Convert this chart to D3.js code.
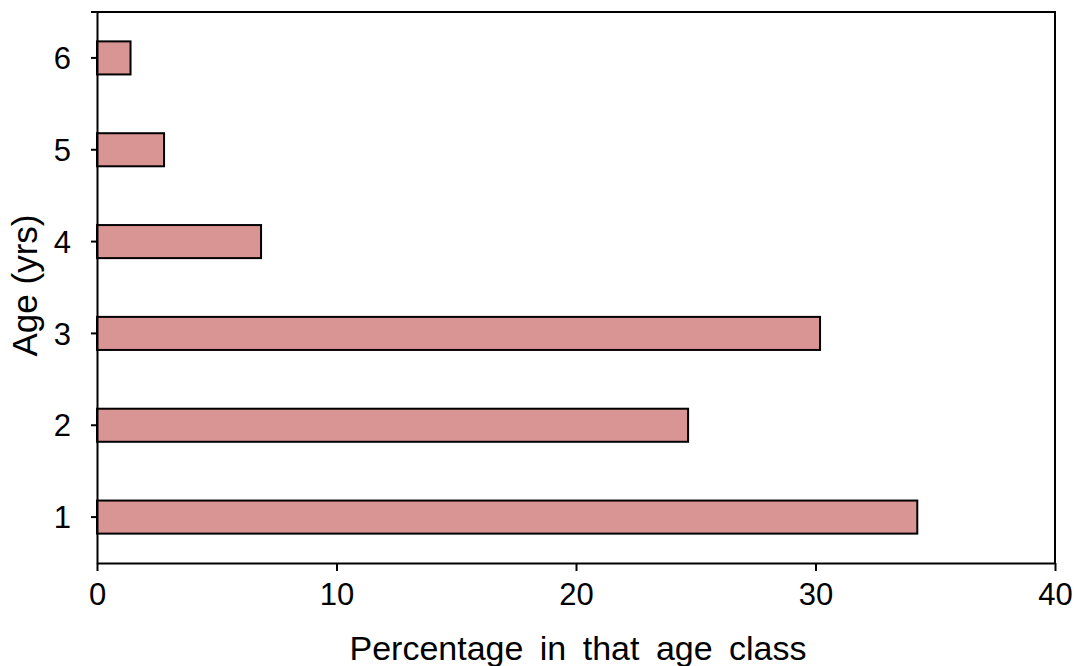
<!DOCTYPE html>
<html>
<head>
<meta charset="utf-8">
<script src="https://cdn.jsdelivr.net/npm/d3@7"></script>
<style>
  body { margin: 0; background: #fff; }
  text { font-family: Arial, "Liberation Sans", sans-serif; fill: #000; }
</style>
</head>
<body>
<script>
// age classes and percentage in each
const ages = ['1', '2', '3', '4', '5', '6'];
const percents = [34.25, 24.68, 30.19, 6.85, 2.80, 1.40];
const xTicks = [0, 10, 20, 30, 40];

const width = 1078;
const height = 666;
const margins = {
  top: 12,
  bottom: 103,
  left: 97,
  right: 23,
};

const xScale = d3.scaleLinear([0, 40], [margins.left, width - margins.right]);
const yScale = d3.scaleBand(ages, [height - margins.bottom, margins.top])
  .paddingInner(0.64)
  .paddingOuter(0.32);

const svg = d3.create('svg')
  .attr('width', width)
  .attr('height', height);

// frame: top and right lines
svg.append('path')
  .attr('d', `M${margins.left - 6},${margins.top}H${width - margins.right}V${height - margins.bottom}`)
  .attr('fill', 'none')
  .attr('stroke', '#000')
  .attr('stroke-width', 2);

// bars
svg.append('g')
  .selectAll('rect')
  .data(ages.map((a, i) => [a, percents[i]]))
  .join('rect')
  .attr('x', xScale(0))
  .attr('y', d => yScale(d[0]))
  .attr('width', d => xScale(d[1]) - xScale(0))
  .attr('height', yScale.bandwidth())
  .attr('fill', '#d89594')
  .attr('stroke', '#000')
  .attr('stroke-width', 2);

// x-axis
const gx = svg.append('g')
  .attr('transform', `translate(0, ${height - margins.bottom})`)
  .call(d3.axisBottom(xScale).tickValues(xTicks).tickSize(8).tickPadding(12).tickSizeOuter(0));

// y-axis
const gy = svg.append('g')
  .attr('transform', `translate(${margins.left}, 0)`)
  .call(d3.axisLeft(yScale).tickSize(6).tickPadding(20).tickSizeOuter(0));

for (const g of [gx, gy]) {
  g.select('.domain').attr('stroke', '#000').attr('stroke-width', 2);
  g.selectAll('.tick line').attr('stroke', '#000').attr('stroke-width', 2);
  g.selectAll('.tick text')
    .attr('font-size', 31)
    .attr('font-family', 'Arial, "Liberation Sans", sans-serif');
}
gy.selectAll('.tick text').attr('dy', '0.36em');

// axis titles
svg.append('text')
  .attr('x', (xScale.range()[0] + xScale.range()[1]) / 2 + 2)
  .attr('y', 660)
  .attr('text-anchor', 'middle')
  .attr('font-size', 34)
  .attr('word-spacing', 7)
  .text('Percentage in that age class');

svg.append('text')
  .attr('transform', `translate(37, ${(margins.top + height - margins.bottom) / 2 - 2}) rotate(-90)`)
  .attr('text-anchor', 'middle')
  .attr('font-size', 35)
  .text('Age (yrs)');

document.body.append(svg.node());
</script>
</body>
</html>
